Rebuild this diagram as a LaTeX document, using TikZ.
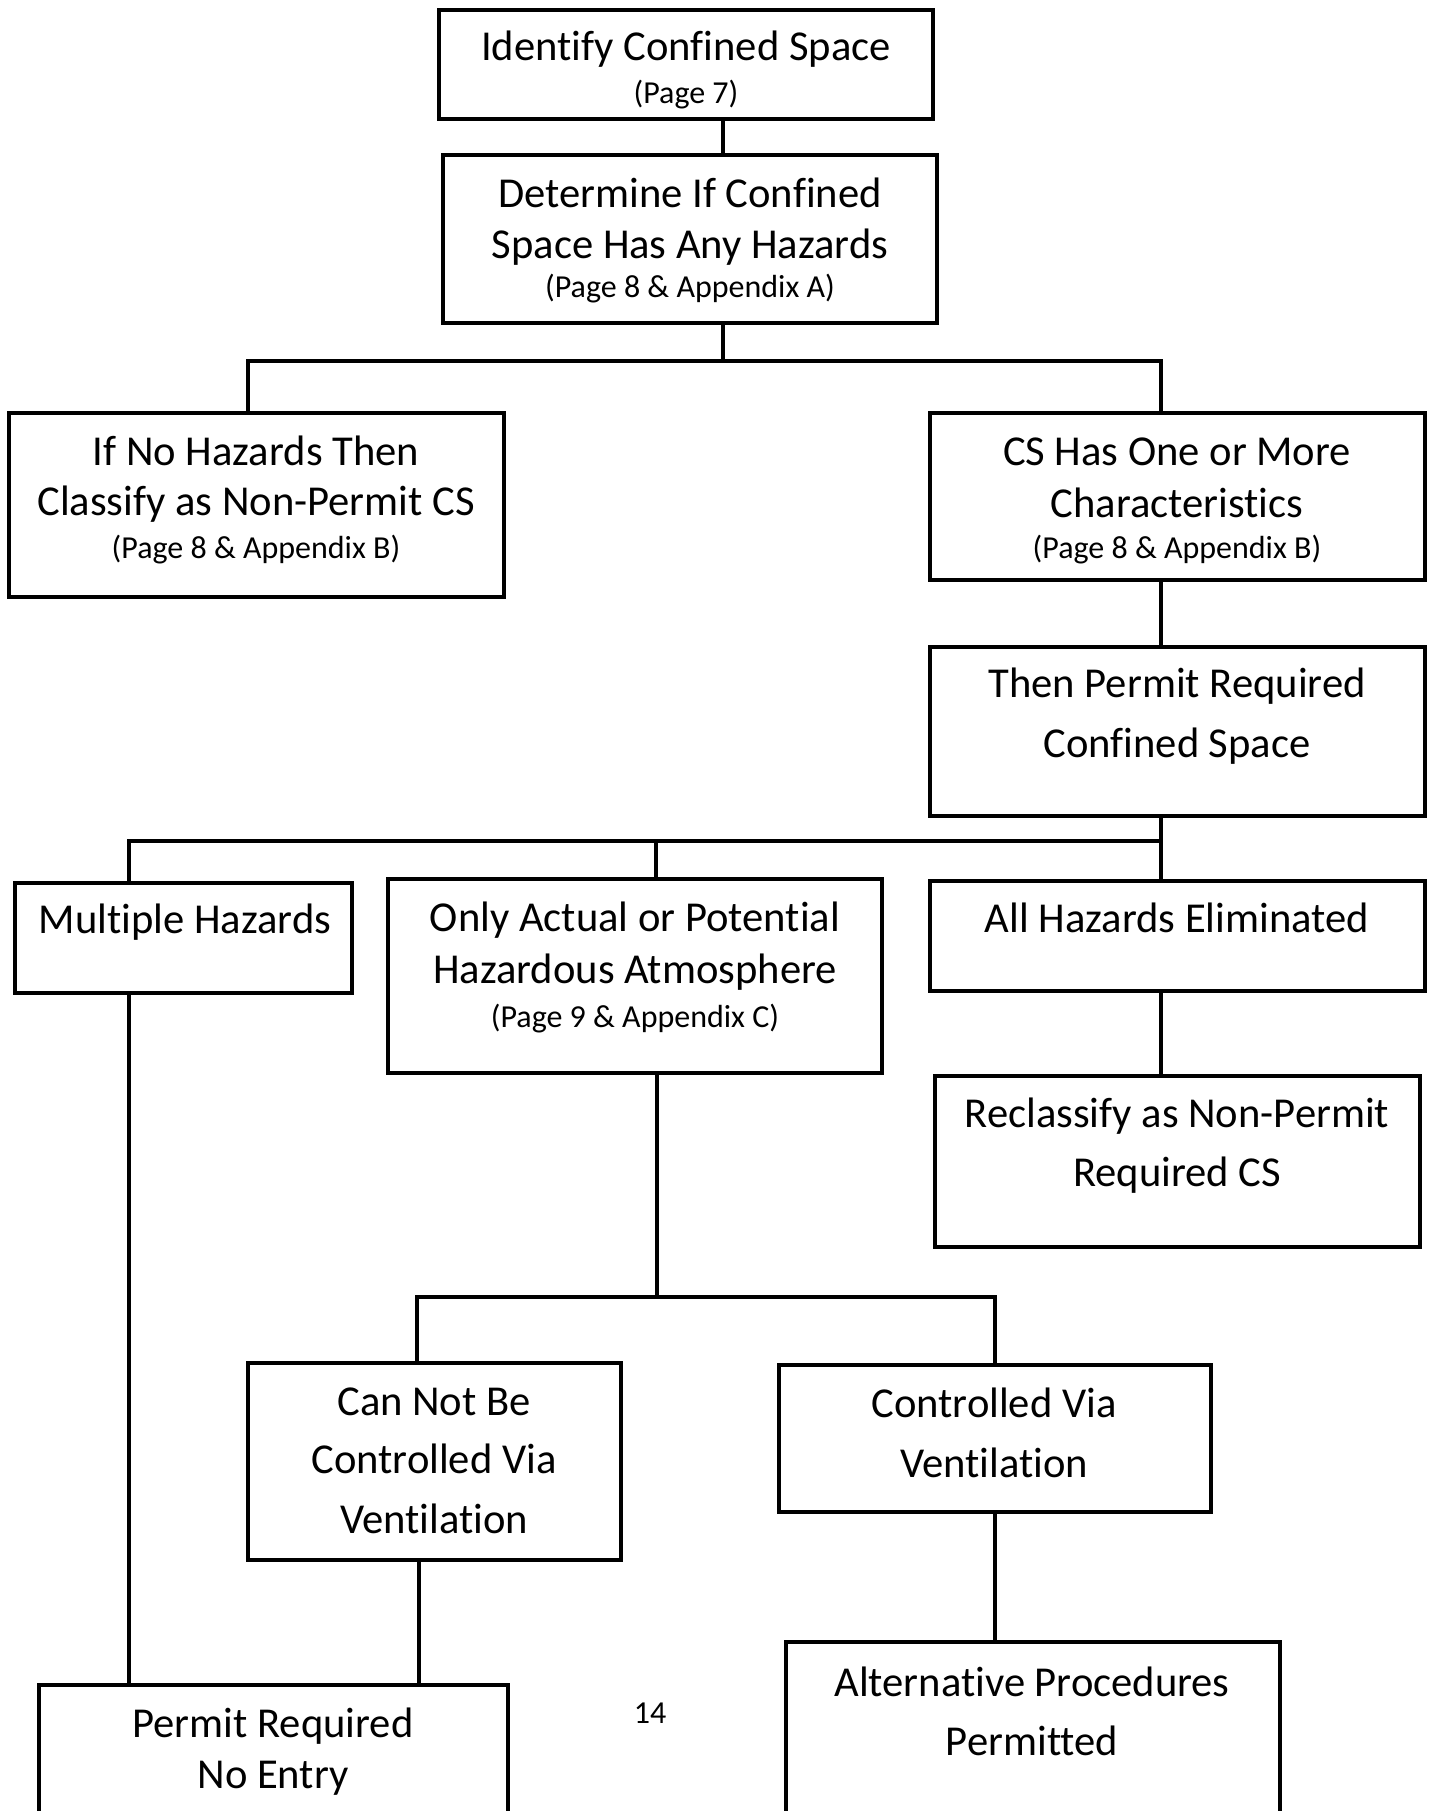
\documentclass[tikz,border=0pt]{standalone}
\usepackage{fontspec}
\setmainfont{Carlito}[Ligatures=NoCommon]
\begin{document}
\begin{tikzpicture}[x=0.5pt,y=-0.5pt,
  box/.style={draw=black, line width=2pt, rectangle, inner sep=0pt},
  big/.style={font=\fontsize{21.3}{25}\selectfont, inner sep=0pt, anchor=base},
  small/.style={font=\fontsize{16}{19}\selectfont, inner sep=0pt, anchor=base},
  conn/.style={draw=black, line width=2.2pt}]
\useasboundingbox[fill=white] (0,0) rectangle (1430,1811);

% boxes
\node[box, minimum width=247pt, minimum height=54.5pt] (b1) at (686,64.5) {};
\node[box, minimum width=247pt, minimum height=84pt] (b2) at (690,239) {};
\node[box, minimum width=247.5pt, minimum height=92pt] (b3) at (256.5,505) {};
\node[box, minimum width=247.5pt, minimum height=83.5pt] (b4) at (1177.5,496.5) {};
\node[box, minimum width=247.5pt, minimum height=84.5pt] (b5) at (1177.5,731.5) {};
\node[box, minimum width=168.5pt, minimum height=55pt] (b6) at (183.5,938) {};
\node[box, minimum width=247pt, minimum height=97pt] (b7) at (635,976) {};
\node[box, minimum width=247.5pt, minimum height=55pt] (b8) at (1177.5,936) {};
\node[box, minimum width=242.5pt, minimum height=85.5pt] (b9) at (1177.5,1161.5) {};
\node[box, minimum width=186.5pt, minimum height=98.5pt] (b10) at (434.5,1461.5) {};
\node[box, minimum width=216pt, minimum height=73.5pt] (b11) at (994.5,1438.5) {};
\node[box, minimum width=234.5pt, minimum height=72.5pt] (b12) at (273.5,1757.5) {};
\node[box, minimum width=247pt, minimum height=94pt] (b13) at (1032.5,1736) {};

% texts
\node[big] (t1a) at (686,60) {Identify Confined Space};
\node[small] (t1b) at (686,103) {(Page 7)};
\node[big] (t2a) at (690,207) {Determine If Confined};
\node[big] (t2b) at (690,258) {Space Has Any Hazards};
\node[small] (t2c) at (690,297) {(Page 8 \& Appendix A)};
\node[big] (t3a) at (256,465) {If No Hazards Then};
\node[big] (t3b) at (256,515) {Classify as Non-Permit CS};
\node[small] (t3c) at (256,558) {(Page 8 \& Appendix B)};
\node[big] (t4a) at (1177,465) {CS Has One or More};
\node[big] (t4b) at (1177,517) {Characteristics};
\node[small] (t4c) at (1177,558) {(Page 8 \& Appendix B)};
\node[big] (t5a) at (1177,697) {Then Permit Required};
\node[big] (t5b) at (1177,757) {Confined Space};
\node[big] (t6a) at (185,933) {Multiple Hazards};
\node[big] (t7a) at (635,931) {Only Actual or Potential};
\node[big] (t7b) at (635,983) {Hazardous Atmosphere};
\node[small] (t7c) at (635,1027) {(Page 9 \& Appendix C)};
\node[big] (t8a) at (1177,932) {All Hazards Eliminated};
\node[big] (t9a) at (1177,1127) {Reclassify as Non-Permit};
\node[big] (t9b) at (1177,1186) {Required CS};
\node[big] (t10a) at (434,1415) {Can Not Be};
\node[big] (t10b) at (434,1473) {Controlled Via};
\node[big] (t10c) at (434,1533) {Ventilation};
\node[big] (t11a) at (994,1417) {Controlled Via};
\node[big] (t11b) at (994,1477) {Ventilation};
\node[big] (t12a) at (273,1737) {Permit Required};
\node[big] (t12b) at (273,1788) {No Entry};
\node[big] (t13a) at (1032,1696) {Alternative Procedures};
\node[big] (t13b) at (1032,1755) {Permitted};
\node[small] (pg) at (650,1723) {14};

% junction coordinates
\coordinate (j1) at (723,361);
\coordinate (h1L) at (248,361);
\coordinate (h1R) at (1161,361);
\coordinate (h2L) at (129,841);
\coordinate (h2M) at (656,841);
\coordinate (h2R) at (1161,841);
\coordinate (h3L) at (417,1297);
\coordinate (h3M) at (657,1297);
\coordinate (h3R) at (995,1297);

% connectors
\draw[conn] (j1 |- b1.south) -- (j1 |- b2.north);
\draw[conn] (j1 |- b2.south) -- (j1);
\draw[conn] (h1L |- b3.north) -- (h1L) -- (h1R) -- (h1R |- b4.north);
\draw[conn] (h1R |- b4.south) -- (h1R |- b5.north);
\draw[conn] (h2R |- b5.south) -- (h2R) -- (h2R |- b8.north);
\draw[conn] (h2L |- b6.north) -- (h2L) -- (h2R);
\draw[conn] (h2M) -- (h2M |- b7.north);
\draw[conn] (h2R |- b8.south) -- (h2R |- b9.north);
\draw[conn] (h3M |- b7.south) -- (h3M);
\draw[conn] (h3L |- b10.north) -- (h3L) -- (h3R) -- (h3R |- b11.north);
\draw[conn] (h2L |- b6.south) -- (h2L |- b12.north);
\coordinate (v10) at (419,1600);
\draw[conn] (v10 |- b10.south) -- (v10 |- b12.north);
\coordinate (v11) at (995,1600);
\draw[conn] (v11 |- b11.south) -- (v11 |- b13.north);
\end{tikzpicture}
\end{document}
